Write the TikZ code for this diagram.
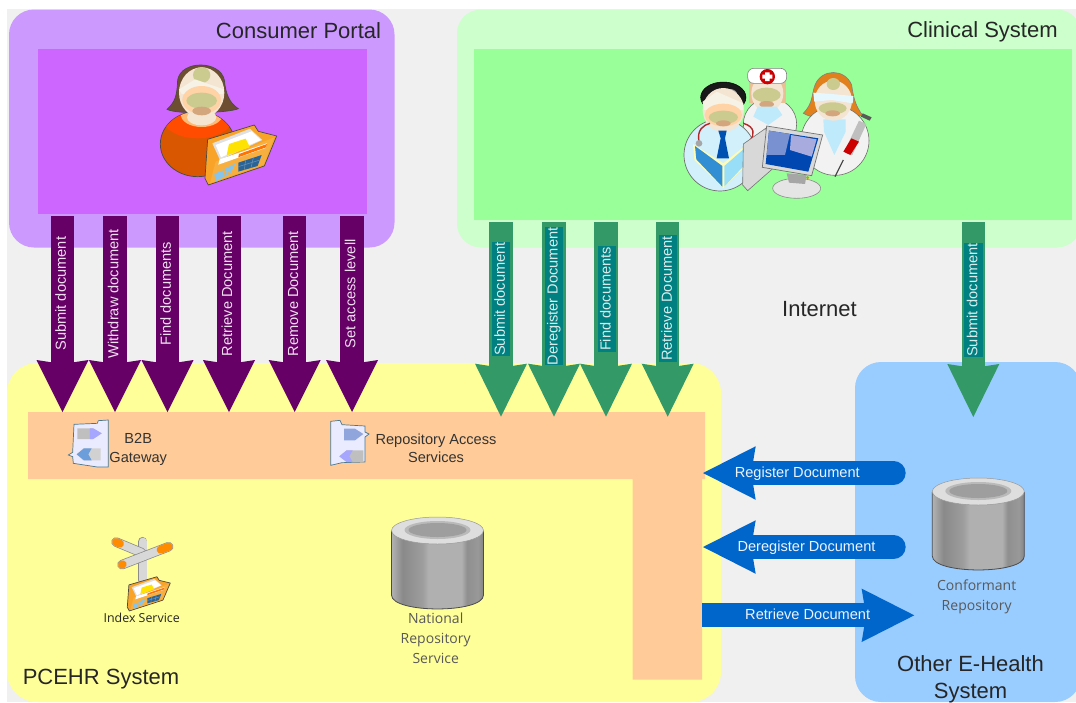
\documentclass[tikz,border=0pt]{standalone}
\usepackage{fontspec}
\setmainfont{Liberation Sans}
\newfontfamily\lblfont{Open Sans}
\usetikzlibrary{arrows.meta,shadings}
\pgfdeclarehorizontalshading{cylbody}{100bp}{rgb(0bp)=(.70,.70,.70); rgb(25bp)=(.70,.70,.70); rgb(31bp)=(.54,.54,.54); rgb(42bp)=(.62,.62,.62); rgb(45bp)=(.69,.69,.69); rgb(63bp)=(.69,.69,.69); rgb(66bp)=(.56,.56,.56); rgb(72bp)=(.60,.60,.60); rgb(75bp)=(.52,.52,.52); rgb(100bp)=(.52,.52,.52)}
\definecolor{cbg}{HTML}{F0F0F0}
\definecolor{cpurpleA}{HTML}{CC99FF}
\definecolor{cpurpleB}{HTML}{CC66FF}
\definecolor{cgreenA}{HTML}{CCFFCC}
\definecolor{cgreenB}{HTML}{99FF99}
\definecolor{cyellow}{HTML}{FFFF99}
\definecolor{cpeach}{HTML}{FFCC99}
\definecolor{cblue}{HTML}{99CCFF}
\definecolor{cdeep}{HTML}{660066}
\definecolor{csea}{HTML}{339966}
\definecolor{cteal}{HTML}{008080}
\definecolor{carrow}{HTML}{0066CC}
\definecolor{cline}{HTML}{4A4A44}
\definecolor{cface}{HTML}{F4E4D2}
\definecolor{cwarm}{HTML}{FFD3A6}
\definecolor{colive}{HTML}{CBCB90}
\definecolor{cmouth}{HTML}{D4A67E}
\definecolor{cband}{HTML}{F6F2E6}
\definecolor{chair}{HTML}{6E4E30}
\definecolor{cfolder}{HTML}{F9A428}
\definecolor{cfoldb}{HTML}{F7B040}
\definecolor{cgrid}{HTML}{2A6496}
\definecolor{csky}{HTML}{86C4EC}
\definecolor{csteel}{HTML}{D8D8D8}
\newcommand{\ovalf}[4]{\fill[#1] (#2) ellipse [x radius=#3,y radius=#4];}
\newcommand{\polyf}[2]{\fill[#1] #2 -- cycle;}
\newcommand{\drawfolder}{%
  \filldraw[fill=cfolder,draw=cline,line width=.7pt,line join=round] (158,238) -- (298,195) -- (310,214) -- (365,228) -- (328,318) -- (160,375) -- (150,355) -- cycle;
  \polyf{black!12}{(172,250) -- (285,206) -- (322,240) -- (195,300)}
  \polyf{white}{(182,255) -- (290,214) -- (318,240) -- (198,292)}
  \polyf{yellow!85!orange}{(222,252) -- (272,236) -- (285,262) -- (215,286)}
  \polyf{cfoldb}{(165,370) -- (182,305) -- (358,232) -- (326,314)}
  \polyf{white}{(194,298) -- (336,250) -- (332,264) -- (190,314)}
  \polyf{orange!90!red}{(252,282) -- (336,252) -- (333,262) -- (250,292)}
  \polyf{cgrid}{(250,308) -- (320,285) -- (308,318) -- (250,335)}
  \polyf{csky}{(178,342) -- (242,310) -- (226,340) -- (182,364)}
  \draw[cfoldb,line width=.8pt] (210,326) -- (206,352) (192,330) -- (225,338);
  \draw[cgrid!70!white,line width=.5pt] (272,300) -- (268,330) (295,293) -- (288,324) (250,320) -- (315,300);
}
\tikzset{
  region/.style={inner sep=0pt,outer sep=0pt,rectangle,rounded corners=#1},
  panel/.style={inner sep=0pt,outer sep=0pt,rectangle},
  titletext/.style={font=\fontsize{22}{27}\selectfont,text=black!85,inner sep=0pt,align=center},
  darktext/.style={font=\fontsize{14.6}{18}\selectfont,text=black!80,inner sep=0pt,align=center},
  repotext/.style={font=\lblfont\fontsize{14}{20}\selectfont,text=black!65,inner sep=0pt,align=center},
  indextext/.style={font=\lblfont\fontsize{12.4}{15}\selectfont,text=black!85,inner sep=0pt},
  vlabel/.style={rotate=90,font=\fontsize{14.6}{16}\selectfont,text height=10.5pt,text depth=3pt,inner sep=0pt},
  purplelabel/.style={vlabel,text=white!88!cdeep},
  teallabel/.style={vlabel,text=white!85!cteal,fill=cteal,minimum height=18.3pt},
  bluelabel/.style={font=\fontsize{14.6}{16}\selectfont,text=white!92!carrow,inner sep=0pt},
  purplearrow/.style={draw=cdeep,line width=23.5pt,-{Stealth[length=52pt,width=52pt,inset=4pt,line width=0pt,fill=cdeep]}},
  seaarrow/.style={draw=csea,line width=23.5pt,-{Stealth[length=53pt,width=52pt,inset=4pt,line width=0pt,fill=csea]}},
  bluearrow/.style={draw=carrow,line width=24.3pt,-{Stealth[length=52.7pt,width=53.5pt,inset=4.5pt,line width=0pt,fill=carrow]}},
  signarm/.style={line cap=round,line width=#1},
  pics/repo/.style={code={
    \shade[shading=cylbody] (0,14) -- (0,78) .. controls (0,96.6) and (92,96.6) .. (92,78) -- (92,14) -- cycle;
    \draw[black!70,line width=.8pt] (0,14) -- (0,78) .. controls (0,96.6) and (92,96.6) .. (92,78) -- (92,14);
    \filldraw[fill=black!13,draw=black!40,line width=.5pt] (46,13.5) ellipse [x radius=46,y radius=13.5];
    \fill[black!27] (46,13) ellipse [x radius=33,y radius=9];
    \fill[black!38] (46,13) ellipse [x radius=29,y radius=7];
  }}
}
\begin{document}
\begin{tikzpicture}[x=1pt,y=-1pt]
\clip (0,0) rectangle (1076,702);
\fill[white] (0,0) rectangle (1076,702);
\fill[cbg] (7,9) rectangle (1076,702);

% regions
\node[region=25pt,fill=cpurpleA,minimum width=385.5pt,minimum height=238pt] (portal) at (201.75,128.5) {};
\node[panel,fill=cpurpleB,minimum width=329pt,minimum height=165.5pt] (portalin) at (202,131.25) {};
\node[region=24pt,fill=cgreenA,minimum width=624pt,minimum height=238pt] (clinical) at (769,128.5) {};
\node[panel,fill=cgreenB,minimum width=598pt,minimum height=171pt] (clinicalin) at (772.5,134) {};
\node[region=30pt,fill=cyellow,minimum width=714pt,minimum height=339pt] (pcehr) at (364,532.5) {};
\node[region=26pt,fill=cblue,minimum width=226pt,minimum height=340pt] (other) at (968,532) {};
\fill[cpeach] (28,412) -- (705,412) -- (705,479) -- (702,479) -- (702,679.7) -- (632.7,679.7) -- (632.7,479) -- (28,479) -- cycle;

% titles
\node[titletext] (t1) at (298.5,31) {Consumer Portal};
\node[titletext] (t2) at (982.5,32) {Clinical System};
\node[titletext] (t3) at (819.5,309) {Internet};
\node[titletext] (t4) at (101,679) {PCEHR System};
\node[titletext] (t5) at (970.5,679.5) {Other E-Health\\System};

% person with folder
\begin{scope}[shift={(155,60)},x=.3333pt,y=-.3333pt]
  \filldraw[fill=chair,draw=cline,line width=.7pt] (36,148) .. controls (62,125) and (66,105) .. (68,60) .. controls (78,0) and (195,0) .. (208,60) .. controls (212,105) and (225,130) .. (250,146) .. controls (225,158) and (70,165) .. (36,148) -- cycle;
  \filldraw[fill=orange!80!red!85!black,draw=cline,line width=.7pt] (128,252) ellipse [x radius=112,y radius=98];
  \begin{scope}
    \clip (128,252) ellipse [x radius=111,y radius=97];
    \fill[orange!60!red] (128,170) ellipse [x radius=108,y radius=65];
    \fill[orange!55!white] (140,165) ellipse [x radius=62,y radius=36];
  \end{scope}
  \ovalf{cface}{140,172}{44}{24}
  \ovalf{cface}{140,98}{68}{76}
  \ovalf{colive}{140,45}{26}{24}
  \polyf{cband}{(72,88) -- (120,58) -- (207,88) -- (205,102) -- (80,102)}
  \ovalf{cwarm}{140,120}{58}{42}
  \ovalf{colive}{140,122}{46}{24}
  \ovalf{cmouth}{140,153}{28}{13}
\end{scope}
\begin{scope}[shift={(155,60)},x=.3333pt,y=-.3333pt]
  \drawfolder
\end{scope}

% clinicians
\begin{scope}[shift={(675,60)},x=.3333pt,y=-.3333pt]
  % nurse
  \filldraw[fill=white!95!black,draw=cline!80,line width=.6pt] (285,192) ellipse [x radius=80,y radius=78];
  \fill[orange!35!brown!50!white] (222,60) rectangle (332,130);
  \ovalf{cface}{277,100}{48}{55}
  \ovalf{colive}{275,105}{42}{22}
  \ovalf{cmouth}{275,133}{22}{10}
  \polyf{cyan!25!white}{(235,170) -- (248,140) -- (305,140) -- (322,165) -- (280,195)}
  \filldraw[fill=white,draw=black!50,line width=.6pt,rounded corners=6pt] (218,25) rectangle (335,70);
  \ovalf{red!80!black}{277,50}{23}{23}
  \polyf{white}{(270,37) -- (284,37) -- (284,44) -- (292,44) -- (292,56) -- (284,56) -- (284,63) -- (270,63) -- (270,56) -- (262,56) -- (262,44) -- (270,44)}
  % woman
  \filldraw[fill=orange!55!brown,draw=cline!70,line width=.6pt] (385,160) .. controls (415,130) and (410,100) .. (420,75) .. controls (440,25) and (510,25) .. (530,75) .. controls (535,110) and (540,135) .. (562,165) .. controls (520,185) and (430,185) .. (385,160) -- cycle;
  \filldraw[fill=white!95!black,draw=cline!80,line width=.6pt] (480,242) ellipse [x radius=102,y radius=104];
  \polyf{cyan!25!white}{(445,178) -- (512,178) -- (512,215) -- (478,285) -- (447,215)}
  \ovalf{cface}{475,122}{56}{60}
  \ovalf{colive}{475,72}{20}{18}
  \polyf{white!90!cyan}{(415,98) -- (470,102) -- (535,108) -- (533,130) -- (470,120) -- (418,125)}
  \ovalf{colive}{473,145}{42}{18}
  \ovalf{cmouth}{473,160}{22}{9}
  \draw[black!75,line width=1.2pt] (505,300) -- (480,350);
  \fill[black!65] (563,160) -- (590,172) -- (584,182) -- (558,170) -- cycle;
  \fill[black!25] (552,182) -- (574,192) -- (532,285) -- (508,275) -- cycle;
  \fill[red!80!black] (529,235) -- (552,245) -- (526,285) -- (505,275) -- cycle;
  % doctor
  \filldraw[fill=cyan!18!white,draw=cline!80,line width=.7pt] (135,285) ellipse [x radius=108,y radius=108];
  \filldraw[fill=black!90,draw=black,line width=.5pt] (145,112) ellipse [x radius=68,y radius=46];
  \ovalf{black!40}{165,105}{22}{18}
  \ovalf{cface}{145,150}{62}{66}
  \polyf{cband}{(83,125) -- (125,95) -- (205,130) -- (205,150) -- (85,150)}
  \ovalf{cwarm}{145,165}{56}{34}
  \ovalf{colive}{145,172}{44}{20}
  \ovalf{cmouth}{145,190}{22}{9}
  \draw[red!65!black!85,line width=1.4pt] (72,245) .. controls (65,210) and (85,195) .. (105,190);
  \draw[red!65!black!85,line width=1.4pt] (205,190) .. controls (240,200) and (240,225) .. (225,240);
  \ovalf{black!35}{72,250}{10}{10}
  \polyf{blue!55!cyan!70!black}{(130,212) -- (155,212) -- (150,235) -- (162,295) -- (125,295) -- (137,235)}
  \polyf{white!70!yellow}{(54,252) -- (145,310) -- (232,240) -- (238,290) -- (145,384) -- (58,300)}
  \polyf{cyan!65!blue!85!white}{(60,258) -- (142,318) -- (142,380) -- (64,298)}
  \polyf{cyan!40!white}{(148,318) -- (228,248) -- (232,290) -- (148,380)}
  % computer
  \filldraw[fill=white!90!black,draw=black!45,line width=.6pt] (365,385) ellipse [x radius=72,y radius=30];
  \fill[black!35] (335,340) -- (395,345) -- (390,372) -- (342,368) -- cycle;
  \filldraw[fill=csteel,draw=black!55,line width=.6pt] (205,252) -- (272,205) -- (300,320) -- (218,392) -- (203,375) -- cycle;
  \filldraw[fill=white!85!black,draw=black!55,line width=.7pt] (275,198) -- (443,225) -- (410,347) -- (262,322) -- cycle;
  \polyf{blue!60!cyan!70!black}{(282,212) -- (430,235) -- (400,335) -- (272,312)}
  \polyf{cyan!35!blue!55!white}{(282,212) -- (345,222) -- (330,285) -- (275,285)}
  \polyf{cyan!25!blue!35!white}{(348,225) -- (425,238) -- (410,290) -- (345,270)}
  \ovalf{orange}{398,353}{5}{5}
\end{scope}

% B2B gateway icon
\begin{scope}[shift={(60,415)},x=.3333pt,y=-.3333pt]
  \filldraw[fill=white!92!blue,draw=cyan!50!black,line width=.7pt] (42,28) -- (112,25) -- (115,17) -- (145,15) -- (145,156) -- (112,156) -- (40,145) -- (38,125) -- (25,120) -- (38,112) -- cycle;
  \polyf{black!25}{(52,40) -- (98,40) -- (125,55) -- (98,72) -- (52,72)}
  \polyf{blue!35!white}{(90,40) -- (100,40) -- (125,55) -- (100,72) -- (90,72)}
  \polyf{black!18}{(70,100) -- (122,100) -- (122,136) -- (70,136) -- (50,118)}
  \polyf{cyan!55!blue!60!white}{(72,100) -- (95,100) -- (85,118) -- (95,136) -- (72,136) -- (50,118)}
\end{scope}
% repository access icon
\begin{scope}[shift={(320,412)},x=.3333pt,y=-.3333pt]
  \filldraw[fill=white!92!blue,draw=cyan!50!black,line width=.7pt] (32,28) -- (60,25) -- (66,38) -- (135,42) -- (135,60) -- (147,66) -- (135,75) -- (135,150) -- (66,152) -- (32,160) -- cycle;
  \polyf{cyan!40!blue!45!white}{(72,50) -- (105,50) -- (130,66) -- (105,85) -- (72,85)}
  \polyf{black!25}{(80,115) -- (130,115) -- (130,150) -- (80,150) -- (58,133)}
  \polyf{blue!35!white}{(80,115) -- (98,115) -- (88,133) -- (98,150) -- (80,150) -- (58,133)}
\end{scope}
% index signpost icon
\begin{scope}[shift={(100,530)},x=.3333pt,y=-.3333pt]
  \draw[signarm=9.5pt,black!45] (128,35) -- (128,150);
  \draw[signarm=8pt,csteel] (128,35) -- (128,150);
  \draw[signarm=9.5pt,black!45] (48,36) -- (125,68);
  \draw[signarm=8pt,csteel] (48,36) -- (125,68);
  \draw[signarm=9.5pt,black!45] (66,104) -- (206,50);
  \draw[signarm=8pt,csteel] (66,104) -- (206,50);
  \draw[signarm=8pt,orange!90!yellow] (48,36) -- (60,41);
  \draw[signarm=8pt,orange!90!yellow] (66,104) -- (68,103);
  \draw[signarm=8pt,orange!90!yellow] (182,59) -- (206,50);
\end{scope}
\begin{scope}[shift={(97.3,539.7)},x=.2pt,y=-.19pt]
  \drawfolder
\end{scope}

% cylinders
\pic at (391.5,517) {repo};
\pic at (932.3,478) {repo};

% inner labels
\node[darktext] (b2b) at (138.2,449.5) {B2B\\[1.7pt]Gateway};
\node[darktext] (ras) at (436,448.3) {Repository Access\\Services};
\node[repotext] (nrs) at (435.7,638) {National\\Repository\\Service};
\node[repotext] (cr) at (976.7,597) {Conformant\\Repository};
\node[indextext] (idx) at (141.7,618.3) {Index Service};

% named connector ends
\coordinate (pa1) at (62.5,216);  \coordinate (pb1) at (62.5,412);
\coordinate (pa2) at (115,216);   \coordinate (pb2) at (115,412);
\coordinate (pa3) at (167.5,216); \coordinate (pb3) at (167.5,412);
\coordinate (pa4) at (229,216);   \coordinate (pb4) at (229,412);
\coordinate (pa5) at (294.7,216); \coordinate (pb5) at (294.7,412);
\coordinate (pa6) at (352,216);   \coordinate (pb6) at (352,412);
\coordinate (ga1) at (501,222);   \coordinate (gb1) at (501,416.7);
\coordinate (ga2) at (554,222);   \coordinate (gb2) at (554,416.7);
\coordinate (ga3) at (606,222);   \coordinate (gb3) at (606,416.7);
\coordinate (ga4) at (667.7,222); \coordinate (gb4) at (667.7,416.7);
\coordinate (ga5) at (973.3,222); \coordinate (gb5) at (973.3,417);
\coordinate (ba1) at (893.5,473); \coordinate (bb1) at (703,473);
\coordinate (ba2) at (893.5,547); \coordinate (bb2) at (703,547);
\coordinate (ba3) at (702,615.3); \coordinate (bb3) at (914.3,615.3);

% purple arrows
\draw[purplearrow] (pa1) -- (pb1);
\draw[purplearrow] (pa2) -- (pb2);
\draw[purplearrow] (pa3) -- (pb3);
\draw[purplearrow] (pa4) -- (pb4);
\draw[purplearrow] (pa5) -- (pb5);
\draw[purplearrow] (pa6) -- (pb6);
\node[purplelabel] (l1) at (62,293.7) {Submit document};
\node[purplelabel] (l2) at (114.7,293.7) {Withdraw document};
\node[purplelabel] (l3) at (167,293.8) {Find documents};
\node[purplelabel] (l4) at (228.3,293.7) {Retrieve Document};
\node[purplelabel] (l5) at (294.3,293.7) {Remove Document};
\node[purplelabel] (l6) at (351.7,293.8) {Set access levell};

% green arrows
\draw[seaarrow] (ga1) -- (gb1);
\draw[seaarrow] (ga2) -- (gb2);
\draw[seaarrow] (ga3) -- (gb3);
\draw[seaarrow] (ga4) -- (gb4);
\draw[seaarrow] (ga5) -- (gb5);
\node[teallabel,minimum width=114pt] (m1) at (501,299) {Submit document};
\begin{scope}
  \clip (544,226) rectangle (564,364);
  \node[teallabel,minimum width=139pt] (m2) at (553.8,296.5) {Deregister Document};
\end{scope}
\node[teallabel,minimum width=106pt] (m3) at (606.8,299) {Find documents};
\node[teallabel,minimum width=127pt] (m4) at (668,298.5) {Retrieve Document};
\node[teallabel,minimum width=114pt] (m5) at (973.6,300) {Submit document};

% blue arrows
\draw[bluearrow,line cap=round] (ba1) -- (bb1);
\draw[bluearrow,line cap=round] (ba2) -- (bb2);
\draw[bluearrow] (ba3) -- (bb3);
\node[bluelabel] (r1) at (797.3,474) {Register Document};
\node[bluelabel] (r2) at (806.5,548) {Deregister Document};
\node[bluelabel] (r3) at (807.7,614) {Retrieve Document};
\end{tikzpicture}
\end{document}
